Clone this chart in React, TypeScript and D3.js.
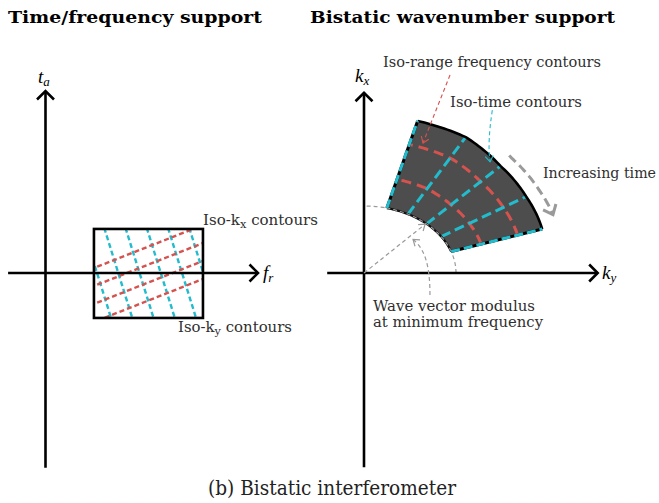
import React from "react";
import * as d3 from "d3";

const W = 659;
const H = 503;

// ---------- Left panel: time / frequency support (normalised units) ----------
const freqBand = [0.228, 0.741]; // f_r extent of the acquisition
const timeSpan = [-0.247, 0.242]; // t_a extent of the acquisition
const isoKxStarts = [0.0275, -0.0714, -0.17, -0.269]; // t_a where each iso-kx line meets the low-frequency edge
const isoKxSlope = 0.46; // dt_a / df_r along an iso-kx contour
const isoKyStarts = [0.178, 0.278, 0.378, 0.478, 0.578, 0.678]; // f_r where each iso-ky line meets the late-time edge
const isoKySlope = -3.75; // dt_a / df_r along an iso-ky contour

// ---------- Right panel: bistatic wavenumber support ----------
const timeAnglesDeg = [18.7, 32.9, 47.1, 61.4, 75.6]; // iso-time contour directions
const kMaxAtAngles = [2.045, 2.1, 2.18, 2.31, 2.343]; // wavenumber modulus at maximum frequency
const kMin = 1; // wavenumber modulus at minimum frequency
const rangeFreqLevels = [0.33, 0.73]; // iso-range-frequency contours (fraction of band)

const RED = "#d4534f";
const CYAN = "#22bccd";
const GREY = "#9a9a9a";
const TEXT = "#2f2f2f";
const SERIF = "'DejaVu Serif', serif";
const MATH = "'Liberation Serif', 'DejaVu Serif', serif";

type Pt = [number, number];

function chevron(tip: Pt, from: Pt, len: number, spreadDeg: number) {
  const ang = Math.atan2(tip[1] - from[1], tip[0] - from[0]);
  const s = (spreadDeg * Math.PI) / 180;
  const a1 = ang + Math.PI - s;
  const a2 = ang + Math.PI + s;
  return `M${tip[0] + len * Math.cos(a1)},${tip[1] + len * Math.sin(a1)}L${tip[0]},${tip[1]}L${
    tip[0] + len * Math.cos(a2)
  },${tip[1] + len * Math.sin(a2)}`;
}

export default function App() {
  // Left panel scales
  const fScale = d3.scaleLinear().domain([0, 1]).range([45.5, 258]);
  const tScale = d3.scaleLinear().domain([0, 1]).range([273, 91]);

  // Right panel scales
  const kyScale = d3.scaleLinear().domain([0, 1]).range([364, 456]);
  const kxScale = d3.scaleLinear().domain([0, 1]).range([273, 206]);
  const kMaxScale = d3.scaleLinear().domain(timeAnglesDeg).range(kMaxAtAngles);
  const rad = (d: number) => (d * Math.PI) / 180;
  const polar = (r: number, deg: number): Pt => [
    kyScale(r * Math.cos(rad(deg))),
    kxScale(r * Math.sin(rad(deg))),
  ];
  const radiusAt = (frac: number, deg: number) => kMin + frac * (kMaxScale(deg) - kMin);

  const th0 = timeAnglesDeg[0];
  const th1 = timeAnglesDeg[timeAnglesDeg.length - 1];
  const sweep = d3.range(th0, th1 + 0.001, (th1 - th0) / 60);
  const line = d3.line<Pt>();
  const smooth = d3.line<Pt>().curve(d3.curveCatmullRom);

  const outerArc = sweep.map((d) => polar(radiusAt(1, d), d));
  const innerArc = sweep.map((d) => polar(kMin, d));
  const wedge =
    line(outerArc)! + "L" + line(innerArc.slice().reverse())!.slice(1) + "Z";
  const quarter = d3.range(0, 90.001, 1.5).map((d) => polar(kMin, d));

  // Left-panel contour segments
  const [f0, f1] = freqBand;
  const [tb, tt] = timeSpan;
  const kxLines = isoKxStarts.map((t0) => {
    const fa = f0 - 0.3;
    const fb = f1 + 0.3;
    return [
      [fScale(fa), tScale(t0 + isoKxSlope * (fa - f0))],
      [fScale(fb), tScale(t0 + isoKxSlope * (fb - f0))],
    ] as Pt[];
  });
  const kyLines = isoKyStarts.map((fTop) => {
    const ta = tt + 0.3;
    const tbb = tb - 0.3;
    return [
      [fScale(fTop + (ta - tt) / isoKySlope), tScale(ta)],
      [fScale(fTop + (tbb - tt) / isoKySlope), tScale(tbb)],
    ] as Pt[];
  });

  // Axis end points
  const lOrigin: Pt = [fScale(0), tScale(0)];
  const lxTip: Pt = [fScale(1), tScale(0)];
  const lyTip: Pt = [fScale(0), tScale(1)];
  const rxTip: Pt = [kyScale(2.54), kxScale(0)];
  const ryTip: Pt = [kyScale(0), kxScale(2.69)];

  // Annotation arrows (in data units of the wavenumber panel)
  const P = (ky: number, kx: number): Pt => [kyScale(ky), kxScale(kx)];
  const waveTip = polar(kMin * 0.985, timeAnglesDeg[2] + 0.5);
  const waveFrom = P(0, 0);
  const modFrom = P(0.717, -0.33);
  const modCtl1 = P(0.717, 0.12);
  const modCtl2 = P(0.66, 0.36);
  const modTip = P(0.533, 0.5);
  const redFrom = P(0.935, 2.955);
  const redTip = P(0.641, 1.94);
  const cyFrom = P(1.395, 2.43);
  const cyCtl = P(1.34, 1.95);
  const cyTip = P(1.37, 1.66);
  const incArc = d3
    .range(48, 22.99, -1)
    .map((d) => polar(kMaxScale(d) + 0.17, d));
  const incTip = incArc[incArc.length - 1];
  const incPrev = incArc[incArc.length - 3];

  const axisStyle = { stroke: "#000", strokeWidth: 2.6, fill: "none" } as const;

  return (
    <svg
      width={W}
      height={H}
      viewBox={`0 0 ${W} ${H}`}
      style={{ position: "absolute", left: 0, top: 0, background: "#fff" }}
    >
      <defs>
        <clipPath id="band">
          <rect
            x={fScale(f0)}
            y={tScale(tt)}
            width={fScale(f1) - fScale(f0)}
            height={tScale(tb) - tScale(tt)}
          />
        </clipPath>
      </defs>
      <rect width={W} height={H} fill="#fff" />

      {/* Titles */}
      <text x={8} y={23} fontFamily={SERIF} fontWeight="bold" fontSize={17.5} textLength={254} lengthAdjust="spacingAndGlyphs">
        Time/frequency support
      </text>
      <text x={310} y={23} fontFamily={SERIF} fontWeight="bold" fontSize={17.5} textLength={305} lengthAdjust="spacingAndGlyphs">
        Bistatic wavenumber support
      </text>

      {/* ===== Left panel ===== */}
      <g clipPath="url(#band)">
        {kyLines.map((l, i) => (
          <path key={"ky" + i} d={line(l)!} stroke={CYAN} strokeWidth={2.4} strokeDasharray="5 3" fill="none" />
        ))}
        {kxLines.map((l, i) => (
          <path key={"kx" + i} d={line(l)!} stroke={RED} strokeWidth={2.4} strokeDasharray="5 3" fill="none" />
        ))}
      </g>
      <rect
        x={fScale(f0)}
        y={tScale(tt)}
        width={fScale(f1) - fScale(f0)}
        height={tScale(tb) - tScale(tt)}
        fill="none"
        stroke="#000"
        strokeWidth={2.6}
      />
      <path d={line([[fScale(-0.176), lOrigin[1]], lxTip])!} {...axisStyle} />
      <path d={line([[lOrigin[0], tScale(-1.07)], lyTip])!} {...axisStyle} />
      <path d={chevron(lxTip, lOrigin, 12, 45)} {...axisStyle} />
      <path d={chevron(lyTip, lOrigin, 12, 45)} {...axisStyle} />

      <text x={38} y={83} fontFamily={MATH} fontStyle="italic" fontSize={19}>
        t<tspan fontSize={13} dy={3}>a</tspan>
      </text>
      <text x={263} y={279} fontFamily={MATH} fontStyle="italic" fontSize={19}>
        f<tspan fontSize={13} dy={3}>r</tspan>
      </text>
      <text x={203} y={225} fontFamily={SERIF} fontSize={14.5} fill={TEXT} textLength={115} lengthAdjust="spacingAndGlyphs">
        Iso-k<tspan fontSize={11} dy={3}>x</tspan>
        <tspan dy={-3}> contours</tspan>
      </text>
      <text x={178} y={332} fontFamily={SERIF} fontSize={14.5} fill={TEXT} textLength={114} lengthAdjust="spacingAndGlyphs">
        Iso-k<tspan fontSize={11} dy={3}>y</tspan>
        <tspan dy={-3}> contours</tspan>
      </text>

      {/* ===== Right panel ===== */}
      <path d={line(quarter)!} stroke={GREY} strokeWidth={1.2} strokeDasharray="4 3" fill="none" />
      <path d={wedge} fill="#4d4d4d" stroke="none" />

      {rangeFreqLevels.map((fr, i) => (
        <path
          key={"rf" + i}
          d={smooth(sweep.map((d) => polar(radiusAt(fr, d), d)))!}
          stroke={RED}
          strokeWidth={3}
          strokeDasharray="10 6"
          fill="none"
        />
      ))}
      {timeAnglesDeg.slice(1, -1).map((d, i) => (
        <path
          key={"it" + i}
          d={line([polar(kMin, d), polar(radiusAt(1, d), d)])!}
          stroke={CYAN}
          strokeWidth={3}
          strokeDasharray="10 5"
          fill="none"
        />
      ))}

      {/* Wedge boundaries */}
      <path d={line(outerArc)!} stroke="#000" strokeWidth={2.6} fill="none" />
      <path d={line(innerArc)!} stroke="#111" strokeWidth={2.2} fill="none" />
      <path d={line(innerArc)!} stroke={GREY} strokeWidth={1.2} strokeDasharray="4 3" fill="none" />
      {[th0, th1].map((d, i) => {
        const seg = [polar(kMin, d), polar(radiusAt(1, d), d)];
        return (
          <g key={"edge" + i}>
            <path d={line(seg)!} stroke="#000" strokeWidth={3} fill="none" />
            <path d={line(seg)!} stroke={CYAN} strokeWidth={3} strokeDasharray="9 4" fill="none" />
          </g>
        );
      })}

      {/* Axes */}
      <path d={line([[kyScale(-0.4), kxScale(0)], rxTip])!} {...axisStyle} />
      <path d={line([[kyScale(0), kxScale(-2.9)], ryTip])!} {...axisStyle} />
      <path d={chevron(rxTip, [kyScale(0), kxScale(0)], 12, 45)} {...axisStyle} />
      <path d={chevron(ryTip, [kyScale(0), kxScale(0)], 12, 45)} {...axisStyle} />
      <text x={355} y={82} fontFamily={MATH} fontStyle="italic" fontSize={19}>
        k<tspan fontSize={13} dy={3}>x</tspan>
      </text>
      <text x={602} y={279} fontFamily={MATH} fontStyle="italic" fontSize={19}>
        k<tspan fontSize={13} dy={3}>y</tspan>
      </text>

      {/* Annotation arrows */}
      <path d={line([waveFrom, waveTip])!} stroke={GREY} strokeWidth={1.2} strokeDasharray="4 3" fill="none" />
      <path d={chevron(waveTip, waveFrom, 7, 35)} stroke={GREY} strokeWidth={1.2} fill="none" />
      <path
        d={`M${modFrom}C${modCtl1} ${modCtl2} ${modTip}`}
        stroke={GREY}
        strokeWidth={1.2}
        strokeDasharray="4 3"
        fill="none"
      />
      <path d={chevron(modTip, modCtl2, 7, 35)} stroke={GREY} strokeWidth={1.2} fill="none" />

      <path d={line([redFrom, redTip])!} stroke={RED} strokeWidth={1.1} strokeDasharray="4 3" fill="none" />
      <path d={chevron(redTip, redFrom, 7, 35)} stroke={RED} strokeWidth={1.1} fill="none" />
      <path
        d={`M${cyFrom}Q${cyCtl} ${cyTip}`}
        stroke={CYAN}
        strokeWidth={1.1}
        strokeDasharray="4 3"
        fill="none"
      />
      <path d={chevron(cyTip, cyCtl, 7, 35)} stroke={CYAN} strokeWidth={1.1} fill="none" />

      <path d={smooth(incArc)!} stroke={GREY} strokeWidth={3} strokeDasharray="9 5" fill="none" />
      <path d={chevron(incTip, incPrev, 11, 40)} stroke={GREY} strokeWidth={3} fill="none" />

      {/* Annotation texts */}
      <text x={383} y={67} fontFamily={SERIF} fontSize={14.5} fill={TEXT} textLength={218} lengthAdjust="spacingAndGlyphs">
        Iso-range frequency contours
      </text>
      <text x={450} y={107} fontFamily={SERIF} fontSize={14.5} fill={TEXT} textLength={132} lengthAdjust="spacingAndGlyphs">
        Iso-time contours
      </text>
      <text x={543} y={178} fontFamily={SERIF} fontSize={14.5} fill={TEXT} textLength={113} lengthAdjust="spacingAndGlyphs">
        Increasing time
      </text>
      <text x={373} y={311} fontFamily={SERIF} fontSize={14.5} fill={TEXT} textLength={162} lengthAdjust="spacingAndGlyphs">
        Wave vector modulus
      </text>
      <text x={373} y={327} fontFamily={SERIF} fontSize={14.5} fill={TEXT} textLength={170} lengthAdjust="spacingAndGlyphs">
        at minimum frequency
      </text>

      {/* Caption */}
      <text x={208} y={495} fontFamily={SERIF} fontSize={19.5} fill="#222" textLength={248} lengthAdjust="spacingAndGlyphs">
        (b) Bistatic interferometer
      </text>
    </svg>
  );
}
